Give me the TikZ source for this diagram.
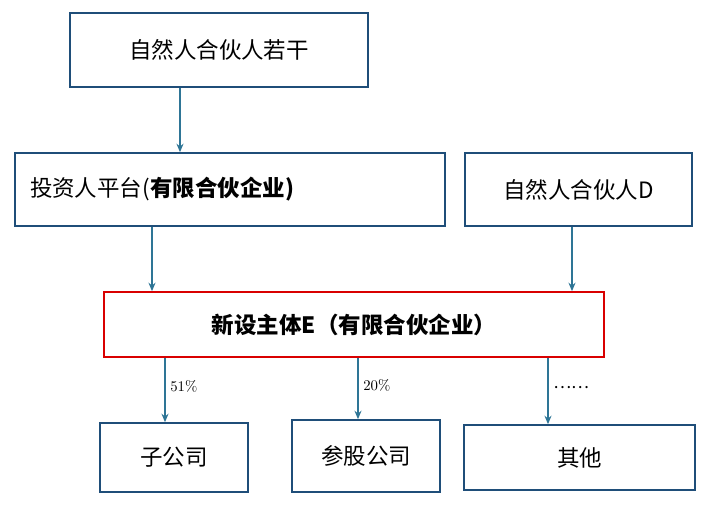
\documentclass[tikz,border=0pt]{standalone}
\usepackage{fontspec}
\newfontfamily\cjk{Noto Sans CJK SC}
\usepackage{tikz}
\usetikzlibrary{positioning,arrows.meta}
\definecolor{boxline}{RGB}{31,78,121}
\definecolor{arrowline}{RGB}{46,117,150}

\begin{document}
\begin{tikzpicture}[
					x=0.025cm, y=-0.025cm,
					% Khung thường
					box/.style={
						draw=boxline, line width=1.2pt, fill=white,
						inner sep=0pt, font=\cjk\fontsize{16}{19}\selectfont
					},
					% Khung chính (viền đỏ)
					mainbox/.style={
						box, draw=red!85!black
					},
					link/.style={draw=arrowline, thick, -{Stealth[length=6pt,width=5pt]}},
					pct/.style={font=\fontsize{10.5}{12}\selectfont, anchor=west}
					]
					\useasboundingbox (0,0) rectangle (718,510);
					
					% --- 1. CÁC KHUNG ---
					\node[box, minimum width=298*0.025cm, minimum height=74*0.025cm] (top) at (219,50) {自然人合伙人若干};
					\node[box, minimum width=430*0.025cm, minimum height=73*0.025cm, text width=400*0.025cm, align=left] (platform) at (230,189.5) {投资人平台(\textbf{有限合伙企业)}};
					\node[box, minimum width=227*0.025cm, minimum height=73*0.025cm] (partnerD) at (578.5,189.5) {自然人合伙人D};
					\node[mainbox, minimum width=500*0.025cm, minimum height=65*0.025cm] (newE) at (354,324.5) {\textbf{新设主体E（有限合伙企业）}};
					\node[box, minimum width=148*0.025cm, minimum height=69*0.025cm] (sub) at (174,457.5) {子公司};
					\node[box, minimum width=148*0.025cm, minimum height=72*0.025cm] (share) at (366,456) {参股公司};
					\node[box, minimum width=231*0.025cm, minimum height=65*0.025cm] (other) at (579.5,457.5) {其他};
					
					% --- 2. MŨI TÊN ---
					\draw[link] (top.south -| 180,0) -- (platform.north -| 180,0);
					\draw[link] (platform.south -| 152,0) -- (newE.north -| 152,0);
					\draw[link] (partnerD.south -| 572,0) -- (newE.north -| 572,0);
					\draw[link] (newE.south -| 165,0) -- (sub.north -| 165,0) node[pct, pos=0.45] {51\%};
					\draw[link] (newE.south -| 358,0) -- (share.north -| 358,0) node[pct, pos=0.45] {20\%};
					\draw[link] (newE.south -| 548,0) -- (other.north -| 548,0) node[pct, pos=0.45, font=\cjk\fontsize{12}{13}\selectfont] {……};
				\end{tikzpicture}
\end{document}
